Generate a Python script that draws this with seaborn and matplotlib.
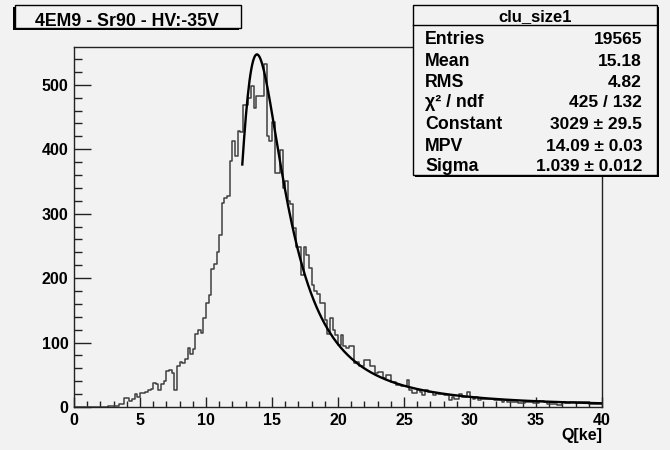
import numpy as np
import pandas as pd
import matplotlib
matplotlib.use("Agg")
import matplotlib.pyplot as plt
import seaborn as sns
from matplotlib.patches import Rectangle
from matplotlib.lines import Line2D
from matplotlib.transforms import Affine2D
from matplotlib.ticker import MultipleLocator

# ---------------- data ----------------
title = "4EM9 - Sr90 - HV:-35V"
hist_name = "clu_size1"
x_label = "Q[ke]"
x_min, x_max, bin_width = 0.0, 40.0, 0.2

counts = [
    0, 0, 0, 0, 0, 0, 0, 0, 0, 0,                       # 0.0 - 1.8
    0, 0, 0, 1, 1, 1, 1, 4, 4, 14,                      # 2.0 - 3.8
    14, 9, 13, 20, 16, 21, 22, 24, 26, 28,              # 4.0 - 5.8
    38, 36, 27, 36, 40, 56, 57, 53, 27, 64,             # 6.0 - 7.8
    70, 68, 74, 91, 83, 90, 113, 120, 115, 138,         # 8.0 - 9.8
    161, 174, 214, 222, 241, 267, 317, 324, 328, 382,   # 10.0 - 11.8
    412, 390, 428, 427, 469, 469, 480, 498, 464, 482,   # 12.0 - 13.8
    482, 482, 532, 420, 412, 443, 363, 363, 399, 340,   # 14.0 - 15.8
    350, 320, 315, 277, 249, 249, 205, 249, 236, 215,   # 16.0 - 17.8
    190, 180, 176, 161, 161, 135, 114, 138, 120, 112,   # 18.0 - 19.8
    96, 112, 94, 91, 94, 94, 68, 70, 63, 63,            # 20.0 - 21.8
    73, 73, 63, 63, 52, 55, 55, 45, 50, 50,             # 22.0 - 23.8
    39, 39, 34, 34, 32, 32, 42, 26, 22, 22,             # 24.0 - 25.8
    26, 24, 19, 27, 24, 24, 19, 22, 20, 20,             # 26.0 - 27.8
    18, 18, 11, 16, 13, 13, 20, 16, 16, 24,             # 28.0 - 29.8
    16, 13, 16, 11, 12, 12, 13, 13, 13, 11,             # 30.0 - 31.8
    11, 11, 8, 11, 8, 8, 8, 8, 6, 6,                    # 32.0 - 33.8
    6, 8, 8, 8, 6, 6, 10, 10, 7, 5,                     # 34.0 - 35.8
    5, 5, 5, 3, 3, 8, 6, 6, 8, 8,                       # 36.0 - 37.8
    6, 8, 8, 8, 7, 5, 5, 5, 5, 5,                       # 38.0 - 39.8
]

stat_labels = ["Entries", "Mean", "RMS", "\u03c7\u00b2 / ndf", "Constant", "MPV", "Sigma"]
stat_values = ["19565", "15.18", "4.82", "425 / 132", "3029 \u00b1 29.5",
               "14.09 \u00b1 0.03", "1.039 \u00b1 0.012"]

# Landau fit parameters (from the stats box)
fit_constant = 3029.0
fit_mpv = 14.09
fit_sigma = 1.039
fit_range = (12.75, 40.0)

# ---------------- helpers ----------------
def landau_density(lams):
    t = np.linspace(1e-9, 40.0, 200001)
    base = -t * np.log(t)
    s = np.sin(np.pi * t)
    out = []
    for lam in lams:
        f = np.exp(base - lam * t) * s
        out.append(np.trapezoid(f, t) / np.pi)
    return np.array(out)

centers = x_min + bin_width * (np.arange(len(counts)) + 0.5)
df = pd.DataFrame({"q": centers, "n": np.asarray(counts, dtype=float)})

fx = np.linspace(fit_range[0], fit_range[1], 400)
fy = fit_constant * landau_density((fx - fit_mpv) / fit_sigma)
fit_df = pd.DataFrame({"q": fx, "f": fy})

# ---------------- figure ----------------
W, H = 670, 450
bg = "#f2f2f2"
fig = plt.figure(figsize=(W / 100, H / 100), dpi=100, facecolor=bg)
FONT = "Liberation Sans"

L, R, T, B = 74, 602, 47, 407
ax = fig.add_axes([L / W, 1 - B / H, (R - L) / W, (B - T) / H])
ax.set_facecolor(bg)

sns.histplot(data=df, x="q", weights="n", binwidth=bin_width, binrange=(x_min, x_max),
             element="step", fill=False, color="#404040", linewidth=1.1, ax=ax)
sns.lineplot(data=fit_df, x="q", y="f", color="black", linewidth=1.7, ax=ax,
             legend=False, sort=True)

ymax = 1.05 * max(counts)
ax.set_xlim(x_min, x_max)
ax.set_ylim(0, ymax)
ax.set_xlabel("")
ax.set_ylabel("")

ax.xaxis.set_major_locator(MultipleLocator(5))
ax.xaxis.set_minor_locator(MultipleLocator(1))
ax.yaxis.set_major_locator(MultipleLocator(100))
ax.yaxis.set_minor_locator(MultipleLocator(20))
ax.tick_params(axis="x", which="major", direction="in", length=7.5, width=1, pad=4,
               top=False, color="#222222")
ax.tick_params(axis="x", which="minor", direction="in", length=4.3, width=1,
               top=False, color="#222222")
ax.tick_params(axis="y", which="major", direction="in", length=12, width=1, pad=4,
               right=False, color="#222222")
ax.tick_params(axis="y", which="minor", direction="in", length=6, width=1,
               right=False, color="#222222")
for lab in ax.get_xticklabels() + ax.get_yticklabels():
    lab.set_fontfamily(FONT)
    lab.set_fontweight("bold")
    lab.set_fontsize(11.5)
for sp in ax.spines.values():
    sp.set_color("#222222")
    sp.set_linewidth(1.0)

# pixel transform (origin top-left)
pix = Affine2D().scale(1 / W, -1 / H).translate(0, 1) + fig.transFigure

def ptext(x, y, s, **kw):
    fig.text(x / W, 1 - y / H, s, fontfamily=FONT, fontweight="bold", **kw)

# x axis title
ptext(602, 440, x_label, ha="right", va="baseline", fontsize=11.5)

# title box (shadow bottom-left)
fig.add_artist(Rectangle((12.7, 7), 226, 22.7, transform=pix, facecolor="black",
                         edgecolor="none", zorder=5))
fig.add_artist(Rectangle((14.7, 5), 226, 23, transform=pix, facecolor=bg,
                         edgecolor="black", linewidth=1, zorder=6))
ptext(127, 26.5, title, ha="center", va="baseline", fontsize=12.8, zorder=7)

# stats box (shadow bottom-right)
bx0, by0, bw, bh = 413, 5, 244, 170
fig.add_artist(Rectangle((bx0 + 2, by0 + 2), bw, bh, transform=pix, facecolor="black",
                         edgecolor="none", zorder=5))
fig.add_artist(Rectangle((bx0, by0), bw, bh, transform=pix, facecolor=bg,
                         edgecolor="black", linewidth=1, zorder=6))
fig.add_artist(Line2D([bx0, bx0 + bw], [25, 25], transform=pix, color="black",
                      linewidth=1, zorder=7))
ptext(bx0 + bw / 2, 21.5, hist_name, ha="center", va="baseline", fontsize=12, zorder=7)
baselines = [44.3, 66, 86.7, 107.3, 129.3, 150.7, 170.7]
for lab, val, yb in zip(stat_labels, stat_values, baselines):
    ptext(425, yb, lab, ha="left", va="baseline", fontsize=12.8, zorder=7)
    ptext(642, yb, val, ha="right", va="baseline", fontsize=12.5, zorder=7)

fig.savefig("out.png", dpi=100, facecolor=bg)
